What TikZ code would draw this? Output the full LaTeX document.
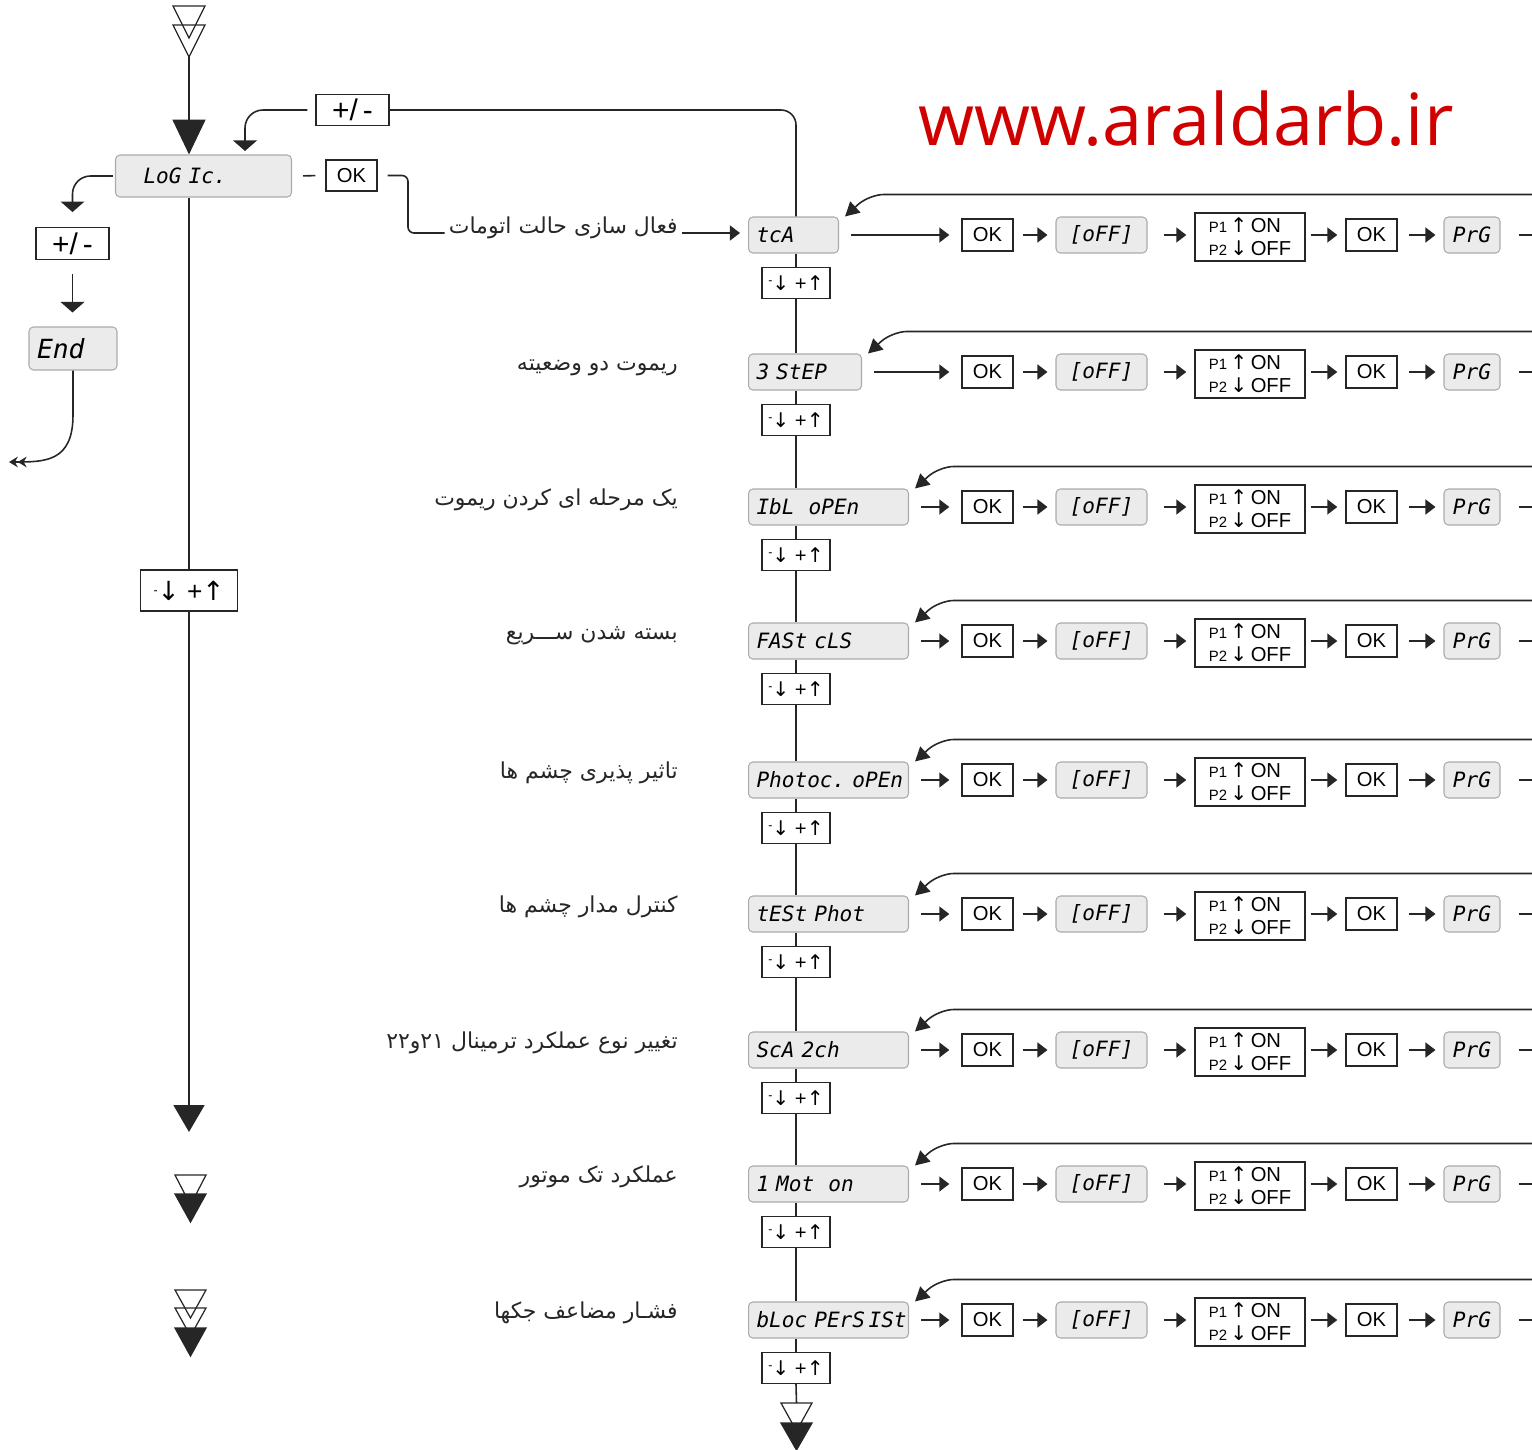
\documentclass[tikz,border=0pt]{standalone}
\usepackage{fontspec}
\setmainfont{Liberation Sans}
\newfontfamily\lcdfont{DejaVu Sans Mono}
\newfontfamily\symfont{DejaVu Sans}
\newfontfamily\farsifont[Script=Arabic]{DejaVu Sans}
\newfontfamily\webfont{Open Sans}
\TeXXeTstate=1
\usetikzlibrary{arrows.meta,calc,positioning}

\definecolor{lcdfill}{HTML}{EBEBEC}
\definecolor{lcdedge}{HTML}{ABABAB}
\definecolor{webred}{HTML}{D10000}
\definecolor{ink}{HTML}{262626}

\tikzset{
  lcd/.style={draw=lcdedge, fill=lcdfill, rounded corners=2.5pt, line width=0.6pt,
    minimum height=0.72cm, inner xsep=0.16cm, align=left,
    font=\lcdfont\itshape\fontsize{12}{14}\selectfont},
  keybox/.style={draw=ink, line width=0.8pt, fill=white, inner sep=1pt,
    font=\fontsize{11.5}{13}\selectfont},
  okbox/.style={keybox, minimum width=1.02cm, minimum height=0.64cm},
  pmbox/.style={keybox, minimum width=1.46cm, minimum height=0.63cm, font=\fontsize{17}{17}\selectfont},
  updown/.style={keybox, minimum width=1.36cm, minimum height=0.62cm},
  pbox/.style={keybox, minimum width=2.2cm, minimum height=0.96cm, align=left, inner xsep=4pt},
  farsi/.style={font=\farsifont\fontsize{12.5}{15}\selectfont, inner xsep=0.08cm, text=ink},
  wire/.style={draw=ink, line width=0.9pt},
  arr/.style={wire, -{Triangle[length=5.7pt,width=8.5pt]}},
  backarr/.style={wire, -{Triangle[length=8pt,width=8.5pt]}, rounded corners=0.3cm},
  flatarr/.style={wire, -{Triangle[length=6pt,width=13.5pt]}, rounded corners=0.36cm},
  tri/.style={draw=ink, line width=0.7pt},
}
\newcommand\keyarrows{{\fontsize{7}{7}\selectfont\raisebox{0.9ex}{-}}{\symfont↓} +{\symfont↑}}

\begin{document}
\begin{tikzpicture}[x=0.02cm,y=-0.02cm]
\useasboundingbox (0,0) rectangle (1532,1450);

% watermark
\node[font=\webfont\fontsize{41}{41}\selectfont, text=webred, anchor=base west, inner sep=0] (web) at (918,145) {www.araldarb.ir};

% left column
\node[lcd, text width=2.4cm, inner xsep=0.56cm, minimum height=0.84cm] (logic) at (203.5,176) {LoG Ic.};
\node[pmbox] (pmtop) at (352.5,110) {+/\,-};
\node[okbox, minimum height=0.62cm] (ok0) at (351.5,175.5) {OK};
\node[pmbox] (pmleft) at (72.5,243.5) {+/\,-};
\node[lcd, text width=1.44cm, minimum height=0.86cm, font=\lcdfont\itshape\fontsize{15}{16}\selectfont] (end) at (73,348.5) {End};
\node[updown, minimum width=1.94cm, minimum height=0.82cm, font=\fontsize{15}{15}\selectfont] (keysL) at (189,590.5) {\keyarrows};

\coordinate (entry) at (189,57);
\coordinate (spineend) at (189,1132);
\coordinate (exitL) at (9,462);
\coordinate (edge) at (1532,0);
\coordinate (bend) at (408,0);

\draw[tri] (173,6) -- (205,6) -- (189,38) -- cycle;
\draw[tri] (173,25) -- (205,25) -- (189,57) -- cycle;
\draw[wire, -{Triangle[length=19.8pt,width=18.7pt]}] (entry) -- (logic.north -| entry);
\draw[wire] (logic.south -| keysL) -- (keysL.north);
\draw[wire, -{Triangle[length=15.3pt,width=17.6pt]}] (keysL.south) -- (spineend);

\draw[flatarr, shorten <=0.16cm] (pmtop.west) -| (245,151);
\draw[flatarr, shorten <=0.04cm, shorten >=0.3cm] (logic.west) -| (pmleft.north);
\draw[flatarr, shorten <=0.28cm, shorten >=0.28cm] (pmleft.south) -- (end.north -| pmleft);
\draw[wire, -{Stealth[length=5pt,width=6pt]Stealth[length=5pt,width=6pt]}] (end.south) -- (73,415) .. controls (73,462) and (45,462) .. (exitL);
\draw[wire, shorten <=0.22cm, shorten >=0.2cm] (logic.east) -- (ok0.west);

\draw[tri] (175,1175) -- (206,1175) -- (190.5,1205) -- cycle;
\draw[tri, fill=ink] (175,1194) -- (206,1194) -- (190.5,1222) -- cycle;
\draw[tri] (175,1290) -- (206,1290) -- (190.5,1318) -- cycle;
\draw[tri] (175,1308) -- (206,1308) -- (190.5,1336) -- cycle;
\draw[tri, fill=ink] (175,1328) -- (206,1328) -- (190.5,1356) -- cycle;

% right column
\foreach \i/\y/\lab/\tw in {1/235/tcA/1.48cm, 2/372/3~StEP/1.94cm, 3/507/IbL~~oPEn/2.88cm,
  4/641/FASt~cLS/2.88cm, 5/780/Photoc.~oPEn/2.88cm, 6/914/tESt~Phot/2.88cm,
  7/1050/ScA~2ch/2.88cm, 8/1184/1~Mot~~on/2.88cm, 9/1320/bLoc~PErS\,ISt/2.88cm}{
  \node[lcd, text width=\tw, anchor=west] (d\i) at (748,\y) {\lab};
  \node[updown] (k\i) at (796,\y+48) {\keyarrows};
  \node[okbox] (ok\i) at (987.5,\y) {OK};
  \node[lcd, minimum width=1.82cm] (off\i) at (1101.5,\y) {[oFF]};
  \node[pbox] (pp\i) at (1250,\y+2) {{\fontsize{8.5}{10}\selectfont P1}\,{\symfont↑}\,ON\\{\fontsize{8.5}{10}\selectfont P2}\,{\symfont↓}\,OFF};
  \node[okbox] (okb\i) at (1371.5,\y) {OK};
  \node[lcd, minimum width=1.12cm] (prg\i) at (1472,\y) {PrG};
  \draw[wire] (d\i.south -| k\i) -- (k\i.north);
  \draw[arr, shorten <=0.24cm, shorten >=0.24cm] (d\i.east) -- (ok\i.west);
  \draw[arr, shorten <=0.18cm, shorten >=0.16cm] (ok\i.east) -- (off\i.west);
  \draw[arr, shorten <=0.32cm, shorten >=0.16cm] (off\i.east) -- (off\i.east -| pp\i.west);
  \draw[arr, shorten <=0.1cm, shorten >=0.16cm] (pp\i.east |- okb\i) -- (okb\i.west);
  \draw[arr, shorten <=0.22cm, shorten >=0.16cm] (okb\i.east) -- (prg\i.west);
  \draw[wire, shorten <=0.36cm] (prg\i.east) -- (prg\i.east -| edge);
  \coordinate (t\i) at ($(d\i.north east)+(6,0)$);
  \coordinate (c\i) at ($(t\i)+(24,-22)$);
  \draw[backarr] (c\i -| edge) -- (c\i) -- (t\i);
}
\foreach \i [count=\j from 2] in {1,...,8}
  \draw[wire] (k\i.south) -- (d\j.north -| k\i);

\foreach \i/\txt in {1/فعال سازی حالت اتومات, 2/ریموت دو وضعیته, 3/یک مرحله ای کردن ریموت,
  4/بسته شدن ســـریع, 5/تاثیر پذیری چشم ها, 6/کنترل مدار چشم ها,
  7/تغییر نوع عملکرد ترمینال ۲۱و۲۲, 8/عملکرد تک موتور, 9/فشـار مضاعف جکها}
  \node[farsi, anchor=base east] (lab\i) at ($(d\i.west)+(-66,-2)$) {\beginR\txt\endR};

\draw[wire, rounded corners=0.12cm, shorten <=0.2cm] (ok0.east) -| (bend |- lab1.base west) -- (lab1.base west);
\draw[arr, shorten >=0.16cm] (lab1.base east) -- (lab1.base east -| d1.west);
\draw[wire, rounded corners=0.3cm] (pmtop.east) -| (d1.north -| k1);

\coordinate (fin) at (796.5,1403);
\draw[wire] (k9.south) -- (fin);
\draw[tri] (781,1403) -- (812,1403) -- (796.5,1431) -- cycle;
\draw[tri, fill=ink] (781,1423) -- (812,1423) -- (796.5,1450) -- cycle;
\end{tikzpicture}
\end{document}
